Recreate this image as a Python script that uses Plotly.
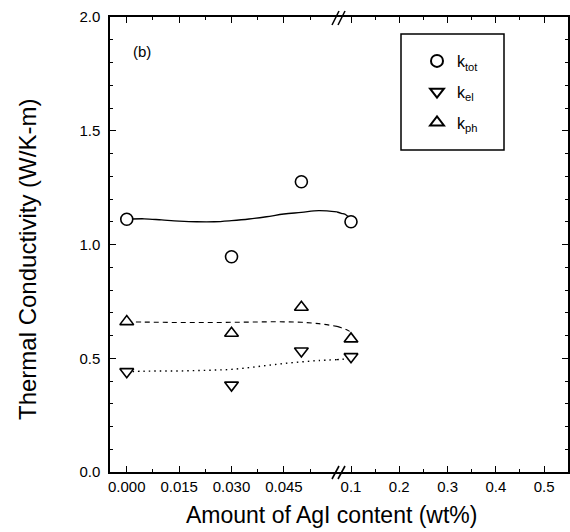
import plotly.graph_objects as go

# ---------------- data ----------------
agi_left = [0.000, 0.030, 0.050]          # wt%, left (expanded) axis segment
agi_right = [0.1]                          # wt%, right axis segment
k_tot_left = [1.111, 0.946, 1.276]
k_tot_right = [1.100]
k_el_left = [0.441, 0.382, 0.532]
k_el_right = [0.507]
k_ph_left = [0.661, 0.610, 0.724]
k_ph_right = [0.585]

# fitted guide curves
fit_x_left = [0.000, 0.005, 0.010, 0.015, 0.020, 0.025, 0.030, 0.035, 0.040,
              0.045, 0.050, 0.055, 0.0602]
fit_x_right = [0.071, 0.080, 0.090, 0.100]
fit_tot_left = [1.111, 1.113, 1.108, 1.103, 1.100, 1.100, 1.105, 1.112, 1.122,
                1.134, 1.141, 1.149, 1.143]
fit_tot_right = [1.143, 1.137, 1.130, 1.105]
fit_ph_left = [0.660, 0.659, 0.658, 0.657, 0.657, 0.657, 0.658, 0.659, 0.660,
               0.660, 0.658, 0.652, 0.640]
fit_ph_right = [0.640, 0.634, 0.626, 0.615]
fit_el_left = [0.441, 0.443, 0.444, 0.444, 0.446, 0.448, 0.451, 0.459, 0.468,
               0.477, 0.484, 0.490, 0.494]
fit_el_right = [0.494, 0.495, 0.497, 0.500]

left_ticks = [0.000, 0.015, 0.030, 0.045]
left_ticktext = ["0.000", "0.015", "0.030", "0.045"]
right_ticks = [0.1, 0.2, 0.3, 0.4, 0.5]
right_ticktext = ["0.1", "0.2", "0.3", "0.4", "0.5"]
y_ticks = [0.0, 0.5, 1.0, 1.5, 2.0]
y_ticktext = ["0.0", "0.5", "1.0", "1.5", "2.0"]

series_names = ["k<sub>tot</sub>", "k<sub>el</sub>", "k<sub>ph</sub>"]

# ---------------- figure ----------------
W, H = 570, 532
ML, MR, MT, MB = 110, 2, 17, 60
PW, PH = W - ML - MR, H - MT - MB
BREAK_PX = 337
split = (BREAK_PX - ML) / PW


def px(xp):
    return (xp - ML) / PW


def py(yp):
    return (MT + PH - yp) / PH


FONT = "Liberation Sans, Arial, sans-serif"
fig = go.Figure()

line_specs = [
    (fit_tot_left, fit_tot_right, "solid", 1.3),
    (fit_ph_left, fit_ph_right, "5px,4px", 1.1),
    (fit_el_left, fit_el_right, "1.5px,4px", 1.4),
]
for yl, yr, dash, w in line_specs:
    fig.add_trace(go.Scatter(x=fit_x_left, y=yl, mode="lines", xaxis="x", yaxis="y",
                             line=dict(color="black", width=w, dash=dash, shape="spline"),
                             showlegend=False, hoverinfo="skip"))
    fig.add_trace(go.Scatter(x=fit_x_right, y=yr, mode="lines", xaxis="x2", yaxis="y2",
                             line=dict(color="black", width=w, dash=dash, shape="spline"),
                             showlegend=False, hoverinfo="skip"))

marker_specs = [
    (k_tot_left, k_tot_right, "circle", 12),
    (k_el_left, k_el_right, "triangle-down", 12),
    (k_ph_left, k_ph_right, "triangle-up", 12),
]
for name, (yl, yr, sym, size) in zip(series_names, marker_specs):
    mk = dict(symbol=sym, size=size, color="white", line=dict(color="black", width=1.6))
    fig.add_trace(go.Scatter(x=agi_left, y=yl, mode="markers", xaxis="x", yaxis="y",
                             marker=mk, name=name, legendgroup=name, showlegend=True))
    fig.add_trace(go.Scatter(x=agi_right, y=yr, mode="markers", xaxis="x2", yaxis="y2",
                             marker=mk, name=name, legendgroup=name, showlegend=False))

axis_common = dict(showline=True, linecolor="black", linewidth=1.5, showgrid=False,
                   zeroline=False, ticks="inside", ticklen=6, tickwidth=1,
                   tickcolor="black", tickfont=dict(family=FONT, size=15, color="black"))

fig.update_layout(
    width=W, height=H,
    margin=dict(l=ML, r=MR, t=MT, b=MB),
    paper_bgcolor="white", plot_bgcolor="white",
    xaxis=dict(domain=[0, split], range=[-0.0048, 0.0602], anchor="y",
               tickvals=left_ticks, ticktext=left_ticktext, mirror="ticks",
               ticklabelstandoff=0,
               minor=dict(ticks="inside", ticklen=3, tick0=0, dtick=0.0075,
                          tickcolor="black", showgrid=False),
               **axis_common),
    xaxis2=dict(domain=[split, 1], range=[0.071, 0.5495], anchor="y2",
                tickvals=right_ticks, ticktext=right_ticktext, mirror="ticks",
                ticklabelstandoff=0,
                minor=dict(ticks="inside", ticklen=3, tick0=0, dtick=0.05,
                           tickcolor="black", showgrid=False),
                **axis_common),
    yaxis=dict(domain=[0, 1], range=[0, 2], anchor="x",
               tickvals=y_ticks, ticktext=y_ticktext, mirror=False,
               ticklabelstandoff=5,
               minor=dict(ticks="inside", ticklen=3, tick0=0, dtick=0.1,
                          tickcolor="black", showgrid=False),
               **axis_common),
    yaxis2=dict(domain=[0, 1], matches="y", anchor="x2", side="right",
                showticklabels=False, tickvals=y_ticks, mirror=False,
                minor=dict(ticks="inside", ticklen=3, tick0=0, dtick=0.1,
                           tickcolor="black", showgrid=False),
                **axis_common),
    legend=dict(x=px(417), y=py(44), xanchor="left", yanchor="top",
                bgcolor="rgba(0,0,0,0)", borderwidth=0, tracegroupgap=7,
                font=dict(family=FONT, size=16, color="black"),
                itemsizing="constant"),
    showlegend=True,
    font=dict(family=FONT, color="black"),
)

# axis titles and panel label
fig.add_annotation(text="Amount of AgI content (wt%)", xref="paper", yref="paper",
                   x=px(331), y=py(515), xanchor="center", yanchor="middle",
                   showarrow=False, font=dict(family=FONT, size=23, color="black"))
fig.add_annotation(text="Thermal Conductivity (W/K-m)", xref="paper", yref="paper",
                   x=px(27), y=py(260), xanchor="center", yanchor="middle",
                   textangle=-90, showarrow=False,
                   font=dict(family=FONT, size=24, color="black"))
fig.add_annotation(text="(b)", xref="paper", yref="paper", x=px(142), y=py(52),
                   xanchor="center", yanchor="middle", showarrow=False,
                   font=dict(family=FONT, size=15, color="black"))

# legend frame
fig.add_shape(type="rect", xref="paper", yref="paper", x0=px(401), x1=px(504),
              y0=py(150), y1=py(34), line=dict(color="black", width=1.5))

# axis break marks
for (x0, y0, x1, y1) in [(332, 25, 339, 11), (338, 25, 345, 11),
                         (332, 479, 339, 466), (338, 479, 345, 466)]:
    fig.add_shape(type="line", xref="paper", yref="paper", x0=px(x0), y0=py(y0),
                  x1=px(x1), y1=py(y1), line=dict(color="black", width=1.6))

fig.write_html("out.html")
